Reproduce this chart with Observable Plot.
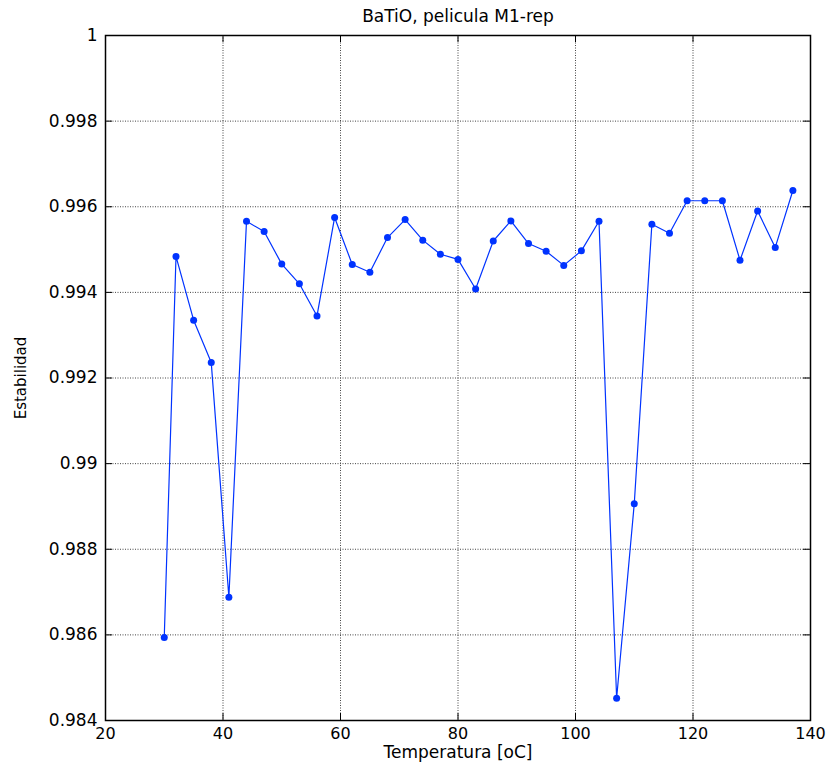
<!DOCTYPE html>
<html>
<head>
<meta charset="utf-8">
<script src="https://cdn.jsdelivr.net/npm/d3@7"></script>
<script src="https://cdn.jsdelivr.net/npm/@observablehq/plot@0.6"></script>
<style>
  html, body { margin: 0; padding: 0; background: white; }
  #chart svg { display: block; }
</style>
</head>
<body>
<div id="chart"></div>
<script>
const title = "BaTiO, pelicula M1-rep";
const xLabel = "Temperatura [oC]";
const yLabel = "Estabilidad";

const temperatura = [30, 32, 35, 38, 41, 44, 47, 50, 53, 56, 59, 62, 65, 68, 71, 74, 77, 80, 83,
  86, 89, 92, 95, 98, 101, 104, 107, 110, 113, 116, 119, 122, 125, 128, 131, 134, 137];
const estabilidad = [0.98594, 0.99484, 0.99335, 0.99236, 0.98688, 0.99566, 0.99542, 0.99466,
  0.99420, 0.99345, 0.99575, 0.99465, 0.99447, 0.99528, 0.99570, 0.99522, 0.99489, 0.99477,
  0.99408, 0.99520, 0.99567, 0.99514, 0.99496, 0.99463, 0.99497, 0.99566, 0.98452, 0.98906,
  0.99559, 0.99538, 0.99614, 0.99614, 0.99614, 0.99475, 0.99590, 0.99505, 0.99638];

const xTicks = [20, 40, 60, 80, 100, 120, 140];
const yTicks = [0.984, 0.986, 0.988, 0.99, 0.992, 0.994, 0.996, 0.998, 1];
const yTickLabels = ["0.984", "0.986", "0.988", "0.99", "0.992", "0.994", "0.996", "0.998", "1"];

const data = temperatura.map((t, i) => ({t, e: estabilidad[i]}));

const W = 827, H = 766;
const mTop = 35, mBottom = 46, mLeft = 105, mRight = 17;
const frameW = W - mLeft - mRight, frameH = H - mTop - mBottom;
const tickLen = 7;
const blue = "#0033ff";
const gridStyle = {stroke: "#444", strokeOpacity: 1, strokeWidth: 1, strokeDasharray: "1,1.5"};

const chart = Plot.plot({
  width: W,
  height: H,
  marginTop: mTop,
  marginBottom: mBottom,
  marginLeft: mLeft,
  marginRight: mRight,
  style: {fontFamily: "DejaVu Sans", background: "white", color: "black"},
  x: {domain: [20, 140]},
  y: {domain: [0.984, 1]},
  marks: [
    Plot.gridX(xTicks, gridStyle),
    Plot.gridY(yTicks, gridStyle),
    // inward ticks (MATLAB style) on all four sides
    Plot.tickX(xTicks, {x: d => d, insetTop: frameH - tickLen, stroke: "black"}),
    Plot.tickX(xTicks, {x: d => d, insetBottom: frameH - tickLen, stroke: "black"}),
    Plot.tickY(yTicks, {y: d => d, insetRight: frameW - tickLen, stroke: "black"}),
    Plot.tickY(yTicks, {y: d => d, insetLeft: frameW - tickLen, stroke: "black"}),
    Plot.axisX(xTicks, {tickSize: 0, tickPadding: 7, fontSize: 16, label: null, tickFormat: d => String(d)}),
    Plot.axisY(yTicks, {tickSize: 0, tickPadding: 8, fontSize: 17, label: null,
      tickFormat: d => yTickLabels[yTicks.indexOf(d)]}),
    Plot.frame({stroke: "black", strokeWidth: 1.5}),
    Plot.line(data, {x: "t", y: "e", stroke: blue, strokeWidth: 1.2}),
    Plot.dot(data, {x: "t", y: "e", r: 3.5, fill: blue, stroke: null}),
    Plot.text([title], {frameAnchor: "top", dy: -14, lineAnchor: "bottom", fontSize: 17, textAnchor: "middle"}),
    Plot.text([xLabel], {frameAnchor: "bottom", dy: 37, lineAnchor: "bottom", fontSize: 17, textAnchor: "middle"}),
    Plot.text([yLabel], {frameAnchor: "left", dx: -84, rotate: -90, fontSize: 15, textAnchor: "middle", lineAnchor: "middle"})
  ]
});

document.getElementById("chart").appendChild(chart);
</script>
</body>
</html>
